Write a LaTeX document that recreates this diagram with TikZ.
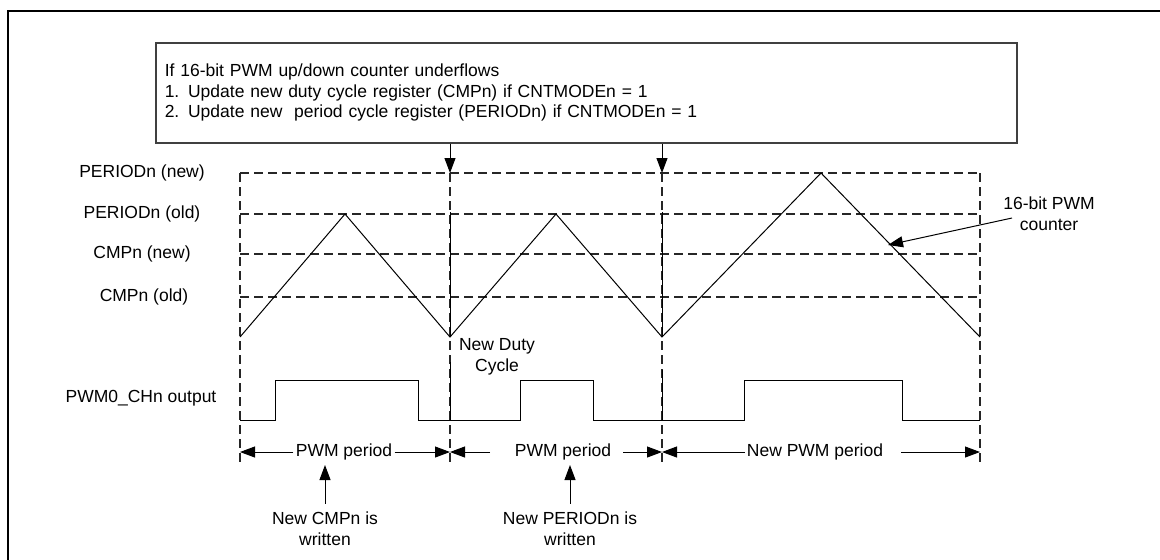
\documentclass[tikz,border=0pt]{standalone}
\usepackage{fontspec}
\setmainfont{Liberation Sans}
\usepackage{tikz}
\usetikzlibrary{arrows.meta,positioning}

\begin{document}
\begin{tikzpicture}[
      x=0.5pt,y=-0.5pt,
      lbl/.style={font=\fontsize{8.75}{10.4}\selectfont,inner sep=1pt,align=center},
      infobox/.style={draw=black!75,line width=0.75pt,anchor=north west,
                      minimum width=430.5pt,minimum height=50pt,text width=421.5pt,
                      inner xsep=4.5pt,align=left,font=\fontsize{8.75}{10.25}\selectfont},
      sig/.style={line width=0.5pt},
      grid/.style={line width=0.6pt,black!85,dash pattern=on 4.5pt off 2.5pt},
      arr/.style={-{Triangle[length=7.5pt,width=5.5pt]},line width=0.5pt},
  ]
  \useasboundingbox (0,0) rectangle (1160,559);
  % Frame
  \draw[line width=1pt] (8,570) |- (1170,11);

  % Update condition box
  \node[infobox] (info) at (155,42)
    {If 16-bit PWM up/down counter underflows\\
     1. Update new duty cycle register (CMPn) if CNTMODEn = 1\\
     2. Update new\ \ period cycle register (PERIODn) if CNTMODEn = 1};

  % Level labels
  \node[lbl] (lpn) at (142,173) {PERIODn (new)};
  \node[lbl] (lpo) at (142,214) {PERIODn (old)};
  \node[lbl] (lcn) at (142,254) {CMPn (new)};
  \node[lbl] (lco) at (144,297) {CMPn (old)};
  \node[lbl] (lout) at (141,398) {PWM0\_CHn output};

  % Grid
  \foreach \y in {173,214,254,297}
    \draw[grid] (240,\y) -- (980,\y);
  \foreach \x in {240,450,662,980}
    \draw[grid] (\x,173) -- (\x,462);
  \foreach \x in {450,662}
    \draw[sig] (\x,212) -- (\x,337);
  \draw[sig] (450,362) -- (450,420);
  \draw[sig] (662,370) -- (662,420);

  % Underflow points
  \coordinate (u1) at (450,173);
  \coordinate (u2) at (662,173);
  \draw[arr] (info.south -| u1) -- (u1);
  \draw[arr] (info.south -| u2) -- (u2);

  % 16-bit counter
  \draw[sig] (240,337) -- (345,214) -- (450,337) -- (556,214)
             -- (662,337) -- (821,173) -- (980,337);
  \node[lbl] (cnt) at (1049,214) {16-bit PWM\\counter};
  \coordinate (cnttail) at (1012,218);
  \coordinate (cnttip) at (888,245);
  \draw[arr] (cnttail) -- (cnttip);

  \node[lbl] (duty) at (497,357) {New Duty\\Cycle};

  % PWM output
  \draw[sig] (240,420) -- (275,420) -- (275,380) -- (418,380) -- (418,420)
             -- (520,420) -- (520,380) -- (593,380) -- (593,420)
             -- (744,420) -- (744,380) -- (902,380) -- (902,420) -- (980,420);

  % Periods
  \node[lbl] (p1) at (344,452) {PWM period};
  \node[lbl] (p2) at (563,452) {PWM period};
  \node[lbl] (p3) at (815,452) {New PWM period};
  \coordinate (e1) at (240,452);
  \coordinate (e2) at (450,452);
  \coordinate (e3) at (662,452);
  \coordinate (e4) at (980,452);
  \draw[arr] (p1.west) -- (e1);
  \draw[arr] (p1.east) -- (e2);
  \draw[arr] (490,452) -- (e2);
  \draw[arr] (623,452) -- (e3);
  \draw[arr] (p3.west) -- (e3);
  \draw[arr] (901,452) -- (e4);

  % Register writes
  \node[lbl] (wcmp) at (325,529) {New CMPn is\\written};
  \node[lbl] (wper) at (570,529) {New PERIODn is\\written};
  \draw[arr] ([yshift=3pt]wcmp.north) -- (wcmp.north |- 0,465);
  \draw[arr] ([yshift=3pt]wper.north) -- (wper.north |- 0,465);
\end{tikzpicture}
\end{document}
